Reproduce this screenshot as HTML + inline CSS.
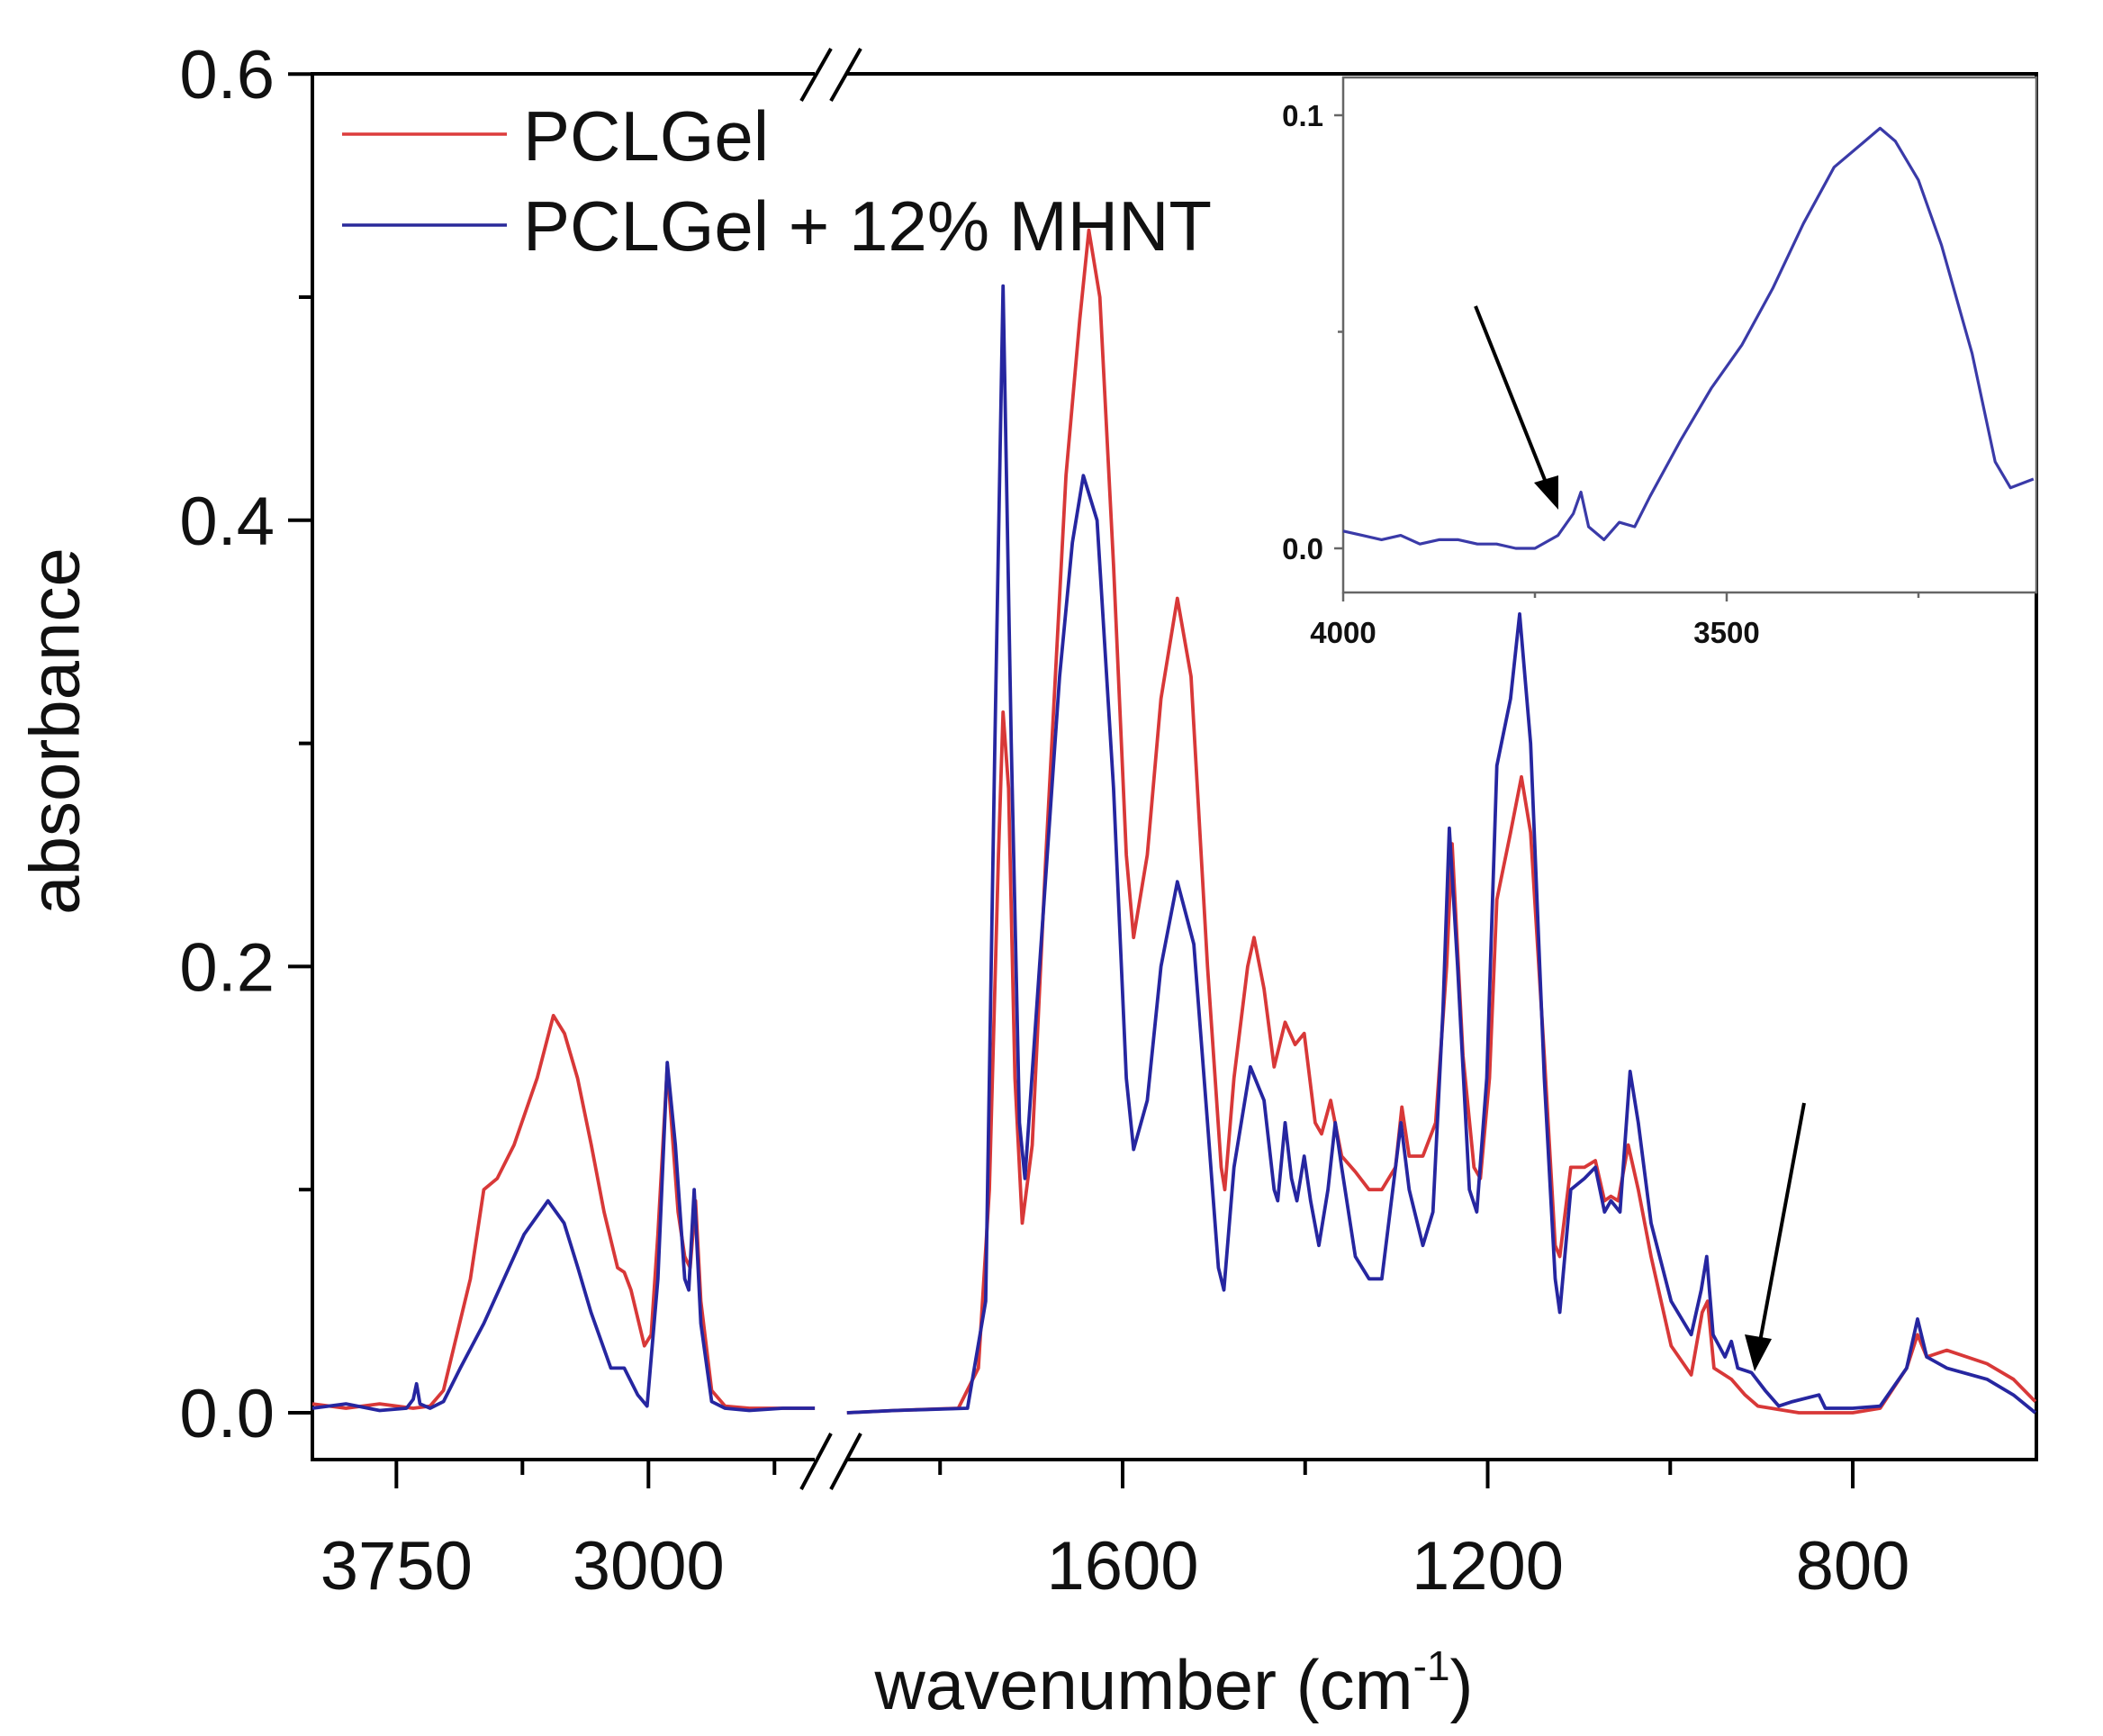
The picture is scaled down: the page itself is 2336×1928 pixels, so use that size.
<!DOCTYPE html>
<html><head><meta charset="utf-8"><style>
html,body{margin:0;padding:0;background:#fff;}
svg{display:block;}
text{font-family:"Liberation Sans",Arial,sans-serif;fill:#111;}
</style></head><body>
<svg id="chart" width="2336" height="1928" viewBox="0 0 2336 1928" xmlns="http://www.w3.org/2000/svg">
<g id="axes"></g>
<g id="series"></g>
<g id="inset"></g>
<g>
  <line x1="380" y1="149" x2="563" y2="149" stroke="#dc3c3c" stroke-width="3.5"/>
  <text x="581" y="178" font-size="78">PCLGel</text>
  <line x1="380" y1="250" x2="563" y2="250" stroke="#2a2a9a" stroke-width="3.5"/>
  <text x="581" y="278" font-size="78">PCLGel + 12% MHNT</text>
</g>
<text x="67" y="812" font-size="78" text-anchor="middle" transform="rotate(-90 67 812)" dominant-baseline="middle">absorbance</text>
<text x="1304" y="1898" font-size="78" text-anchor="middle">wavenumber (cm<tspan font-size="46" dy="-32">-1</tspan><tspan dy="32">)</tspan></text>
<g>
  <line x1="2004" y1="1225" x2="1955" y2="1490" stroke="#000" stroke-width="4"/>
  <polygon points="1949,1523 1938,1482 1968,1487" fill="#000"/>
  <line x1="1639" y1="340" x2="1718" y2="538" stroke="#000" stroke-width="4"/>
  <polygon points="1731,566 1704,536 1731,528" fill="#000"/>
</g>
</svg>
<script>
// ---- main chart data ----
const redLeftW = [4000,3900,3800,3700,3650,3610,3570,3530,3490,3450,3400,3331,3283,3250,3211,3170,3132,3092,3072,3052,3012,2992,2972,2944,2912,2892,2876,2860,2844,2812,2772,2700,2600,2505];
const redLeftA = [0.004,0.002,0.004,0.002,0.003,0.01,0.035,0.06,0.1,0.105,0.12,0.15,0.178,0.17,0.15,0.12,0.09,0.065,0.063,0.055,0.03,0.035,0.08,0.155,0.09,0.07,0.065,0.095,0.05,0.01,0.003,0.002,0.002,0.002];
const blueLeftW = [4000,3900,3800,3720,3700,3690,3680,3650,3610,3560,3490,3430,3370,3299,3251,3210,3171,3112,3072,3032,3004,2972,2944,2920,2892,2880,2864,2844,2812,2772,2700,2600,2505];
const blueLeftA = [0.002,0.004,0.001,0.002,0.006,0.013,0.004,0.002,0.005,0.02,0.04,0.06,0.08,0.095,0.085,0.065,0.045,0.02,0.02,0.008,0.003,0.06,0.157,0.12,0.06,0.055,0.1,0.04,0.005,0.002,0.001,0.002,0.002];
const redRightW = [1902,1850,1780,1758,1746,1736,1731,1725,1718,1710,1699,1684,1662,1647,1637,1625,1610,1596,1588,1573,1558,1540,1525,1507,1492,1488,1478,1463,1456,1445,1434,1422,1411,1401,1389,1382,1372,1360,1345,1330,1316,1301,1294,1286,1271,1257,1245,1239,1227,1215,1208,1198,1190,1175,1163,1153,1138,1126,1121,1109,1094,1082,1072,1065,1057,1046,1035,1021,999,977,965,959,952,933,918,904,859,800,770,741,729,719,697,653,624,600];
const redRightA = [0.0,0.001,0.002,0.02,0.1,0.25,0.314,0.28,0.15,0.085,0.12,0.25,0.42,0.49,0.53,0.5,0.38,0.25,0.213,0.25,0.32,0.365,0.33,0.2,0.11,0.1,0.15,0.2,0.213,0.19,0.155,0.175,0.165,0.17,0.13,0.125,0.14,0.115,0.108,0.1,0.1,0.11,0.137,0.115,0.115,0.13,0.2,0.255,0.16,0.11,0.105,0.15,0.23,0.26,0.285,0.26,0.16,0.075,0.07,0.11,0.11,0.113,0.095,0.097,0.095,0.12,0.1,0.07,0.03,0.017,0.045,0.05,0.02,0.015,0.008,0.003,0.0,0.0,0.002,0.02,0.035,0.025,0.028,0.022,0.015,0.005];
const blueRightW = [1902,1850,1770,1750,1740,1731,1722,1713,1707,1691,1669,1655,1643,1628,1610,1596,1588,1573,1558,1540,1522,1507,1495,1489,1478,1460,1445,1434,1430,1422,1415,1409,1401,1394,1385,1375,1367,1360,1345,1330,1316,1304,1295,1286,1271,1260,1249,1242,1233,1220,1212,1201,1190,1175,1165,1153,1138,1126,1121,1109,1094,1082,1072,1065,1055,1044,1035,1021,999,977,966,960,953,940,933,926,911,896,881,866,837,830,800,770,741,729,719,697,653,624,600];
const blueRightA = [0.0,0.001,0.002,0.05,0.3,0.505,0.3,0.13,0.105,0.2,0.33,0.39,0.42,0.4,0.28,0.15,0.118,0.14,0.2,0.238,0.21,0.13,0.065,0.055,0.11,0.155,0.14,0.1,0.095,0.13,0.105,0.095,0.115,0.095,0.075,0.1,0.13,0.11,0.07,0.06,0.06,0.1,0.13,0.1,0.075,0.09,0.18,0.262,0.2,0.1,0.09,0.15,0.29,0.32,0.358,0.3,0.15,0.06,0.045,0.1,0.105,0.11,0.09,0.095,0.09,0.153,0.13,0.085,0.05,0.035,0.055,0.07,0.035,0.025,0.032,0.02,0.018,0.01,0.003,0.005,0.008,0.002,0.002,0.003,0.02,0.042,0.025,0.02,0.015,0.008,0.0];
const yTickValues = [0.0,0.2,0.4,0.6];
const yTickLabels = ["0.0","0.2","0.4","0.6"];
const yMinorValues = [0.1,0.3,0.5];
const xLeftTicks = [3750,3000];
const xLeftMinor = [3375,2625];
const xRightTicks = [1600,1200,800];
const xRightMinor = [1800,1400,1000];
// ---- inset data ----
const insetW = [4000,3975,3950,3925,3900,3875,3850,3825,3800,3775,3750,3720,3700,3690,3680,3660,3640,3620,3600,3560,3520,3480,3440,3400,3360,3320,3300,3280,3250,3220,3180,3150,3130,3100];
const insetA = [0.004,0.003,0.002,0.003,0.001,0.002,0.002,0.001,0.001,0.0,0.0,0.003,0.008,0.013,0.005,0.002,0.006,0.005,0.012,0.025,0.037,0.047,0.06,0.075,0.088,0.094,0.097,0.094,0.085,0.07,0.045,0.02,0.014,0.016];
const insetYTicks = [0.0,0.1];
const insetYLabels = ["0.0","0.1"];
const insetXTicks = [4000,3500];
const insetXMinor = [3750,3250];

const NS = "http://www.w3.org/2000/svg";
const L = 347, R = 2262, T = 82, B = 1621;
function xL(w){ return L + (4000 - w) * 0.3733; }
function xR(w){ return 1247 + (1600 - w) * 1.0138; }
function yM(a){ return 1569 - a * 2478; }
function xi(w){ return 1492 + (4000 - w) * 0.852; }
function yi(a){ return 609 - a * 4810; }

function mk(parent, tag, attrs){
  const e = document.createElementNS(NS, tag);
  for (const k in attrs) e.setAttribute(k, attrs[k]);
  parent.appendChild(e);
  return e;
}
const axes = document.getElementById('axes');
const series = document.getElementById('series');
const inset = document.getElementById('inset');

let e;
e = mk(axes,'line',{x1:L,y1:T,x2:L,y2:B,stroke:'#000','stroke-width':4});


e = mk(axes,'line',{x1:R,y1:T,x2:R,y2:B,stroke:'#000','stroke-width':4});


e = mk(axes,'path',{d:`M${L-2} ${B}H905M940 ${B}H${R+2}`,stroke:'#000','stroke-width':4,fill:'none'});


e = mk(axes,'path',{d:`M${L-2} ${T}H905M940 ${T}H${R+2}`,stroke:'#000','stroke-width':4,fill:'none'});


e = mk(axes,'path',{d:`M890 ${B+33}L923 ${B-29}M923 ${B+33}L956 ${B-29}`,stroke:'#000','stroke-width':4,fill:'none'});


e = mk(axes,'path',{d:`M890 ${T+30}L923 ${T-28}M923 ${T+30}L956 ${T-28}`,stroke:'#000','stroke-width':4,fill:'none'});



yTickValues.forEach((v,i)=>{
  const t = mk(axes,'line',{x1:L-27,y1:yM(v),x2:L,y2:yM(v),stroke:'#000','stroke-width':4});
  
  
  const lb = mk(axes,'text',{x:305,y:yM(v)+27,'font-size':76,'text-anchor':'end'});
  lb.textContent = yTickLabels[i];
  
  
});
yMinorValues.forEach(v=>{
  const t = mk(axes,'line',{x1:L-15,y1:yM(v),x2:L,y2:yM(v),stroke:'#000','stroke-width':4});
  
  
});
function xtick(x,len,label){
  const t = mk(axes,'line',{x1:x,y1:B,x2:x,y2:B+len,stroke:'#000','stroke-width':4});
  
  
  if(label!==undefined){
    const lb = mk(axes,'text',{x:x,y:1765,'font-size':76,'text-anchor':'middle'});
    lb.textContent = label;
    
    
  }
}
xLeftTicks.forEach(w=>xtick(xL(w),32,String(w)));
xLeftMinor.forEach(w=>xtick(xL(w),17));
xRightTicks.forEach(w=>xtick(xR(w),32,String(w)));
xRightMinor.forEach(w=>xtick(xR(w),17));

function poly(parent, ws, as, fx, fy, color, name, sw){
  const pts = ws.map((w,i)=>fx(w).toFixed(1)+','+fy(as[i]).toFixed(1)).join(' ');
  const p = mk(parent,'polyline',{points:pts,fill:'none',stroke:color,'stroke-width':sw,'stroke-linejoin':'round'});
  
  
}
const RED = '#d83838', BLUE = '#2626a0';
poly(series, redLeftW, redLeftA, xL, yM, RED, 'pclgel-line-high-wavenumber', 3.8);
poly(series, redRightW, redRightA, xR, yM, RED, 'pclgel-line-low-wavenumber', 3.8);
poly(series, blueLeftW, blueLeftA, xL, yM, BLUE, 'mhnt-line-high-wavenumber', 3.8);
poly(series, blueRightW, blueRightA, xR, yM, BLUE, 'mhnt-line-low-wavenumber', 3.8);

// inset
const IL = 1492, IR = 2262, IT = 86, IB = 658;
e = mk(inset,'rect',{x:IL,y:IT,width:IR-IL,height:IB-IT,fill:'#fff',stroke:'#666','stroke-width':2.5});


insetYTicks.forEach((v,i)=>{
  const t = mk(inset,'line',{x1:IL-10,y1:yi(v),x2:IL,y2:yi(v),stroke:'#666','stroke-width':2.5});
  
  
  const lb = mk(inset,'text',{x:1470,y:yi(v)+12,'font-size':33,'font-weight':'bold','text-anchor':'end'});
  lb.textContent = insetYLabels[i];
  
  
});
e = mk(inset,'line',{x1:IL-6,y1:yi(0.05),x2:IL,y2:yi(0.05),stroke:'#666','stroke-width':2.5});


insetXTicks.forEach(w=>{
  const t = mk(inset,'line',{x1:xi(w),y1:IB,x2:xi(w),y2:IB+10,stroke:'#666','stroke-width':2.5});
  
  
  const lb = mk(inset,'text',{x:xi(w),y:714,'font-size':33,'font-weight':'bold','text-anchor':'middle'});
  lb.textContent = String(w);
  
  
});
insetXMinor.forEach(w=>{
  const t = mk(inset,'line',{x1:xi(w),y1:IB,x2:xi(w),y2:IB+6,stroke:'#666','stroke-width':2.5});
  
  
});
poly(inset, insetW, insetA, xi, yi, '#3a3aa8', 'inset-mhnt-line', 3.2);
</script>
</body></html>
